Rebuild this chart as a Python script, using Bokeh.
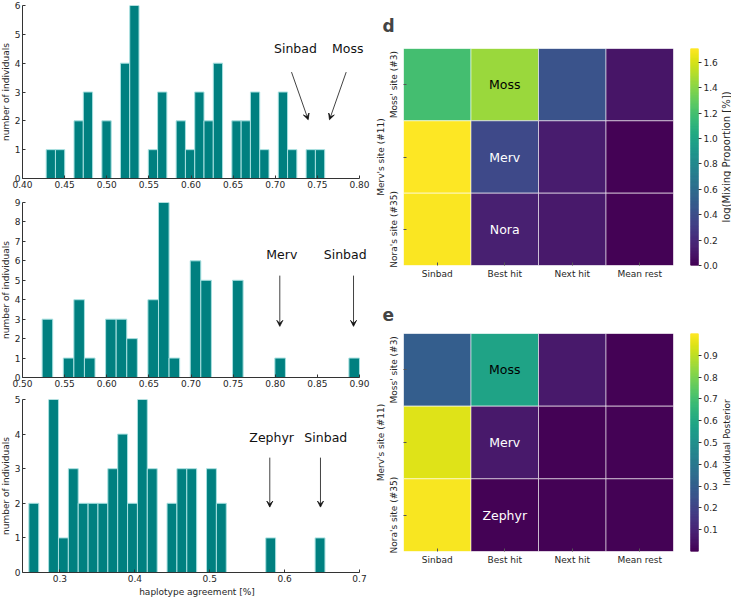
import numpy as np
from bokeh.plotting import figure
from bokeh.layouts import row, column
from bokeh.models import (Range1d, FactorRange, FixedTicker, PrintfTickFormatter, Label, Arrow,
                          VeeHead, LinearColorMapper, ColumnDataSource)
from bokeh.core.properties import value
from bokeh.core.validation import silence
from bokeh.core.validation.warnings import MISSING_RENDERERS
from bokeh.palettes import Viridis256
from bokeh.transform import transform
from bokeh.embed import file_html
from bokeh.resources import INLINE

silence(MISSING_RENDERERS, True)

FONT = "DejaVu Sans"
TXT = "#262626"

# ---------------- histogram data ----------------
h1_start = 0.4281
h1_bin = 0.01102
h1_counts = [1, 1, 0, 2, 3, 0, 2, 0, 4, 6, 0, 1, 3, 0, 2, 1, 3, 2, 4, 0, 2, 2, 3, 1, 0, 3, 1, 0, 1, 1]
h1_xlim = (0.40, 0.80)
h1_xticks = [0.40, 0.45, 0.50, 0.55, 0.60, 0.65, 0.70, 0.75, 0.80]
h1_yticks = [0, 1, 2, 3, 4, 5, 6]
h1_names = ["Sinbad", "Moss"]
h1_text_x = [0.724, 0.786]
h1_text_y = [4.50, 4.50]
h1_arrow_x0 = [0.7193, 0.7842]
h1_arrow_y0 = [3.69, 3.69]
h1_arrow_x1 = [0.7391, 0.7644]
h1_arrow_y1 = [2.04, 2.04]

h2_start = 0.5233
h2_bin = 0.012556
h2_counts = [3, 0, 1, 4, 1, 0, 3, 3, 2, 0, 4, 9, 1, 0, 6, 5, 0, 0, 5, 0, 0, 0, 1, 0, 0, 0, 0, 0, 0, 1]
h2_xlim = (0.50, 0.90)
h2_xticks = [0.50, 0.55, 0.60, 0.65, 0.70, 0.75, 0.80, 0.85, 0.90]
h2_yticks = [0, 1, 2, 3, 4, 5, 6, 7, 8, 9]
h2_names = ["Merv", "Sinbad"]
h2_text_x = [0.8078, 0.883]
h2_text_y = [6.31, 6.31]
h2_arrow_x0 = [0.8054, 0.8929]
h2_arrow_y0 = [5.24, 5.24]
h2_arrow_x1 = [0.8054, 0.8929]
h2_arrow_y1 = [2.63, 2.63]

h3_start = 0.2585
h3_bin = 0.01318
h3_counts = [2, 0, 5, 1, 3, 2, 2, 2, 3, 4, 2, 5, 3, 0, 2, 3, 3, 0, 3, 2, 0, 0, 0, 0, 1, 0, 0, 0, 0, 1]
h3_xlim = (0.25, 0.70)
h3_xticks = [0.3, 0.4, 0.5, 0.6, 0.7]
h3_yticks = [0, 1, 2, 3, 4, 5]
h3_names = ["Zephyr", "Sinbad"]
h3_text_x = [0.5827, 0.655]
h3_text_y = [3.90, 3.90]
h3_arrow_x0 = [0.5802, 0.6479]
h3_arrow_y0 = [3.32, 3.32]
h3_arrow_x1 = [0.5802, 0.6479]
h3_arrow_y1 = [1.89, 1.89]

# ---------------- heatmap data ----------------
hm_cols = ["Sinbad", "Best hit", "Next hit", "Mean rest"]
hm_rows = ["Moss' site (#3)", "Merv's site (#11)", "Nora's site (#35)"]
mix_vals = [[1.20, 1.45, 0.44, 0.10],
            [1.71, 0.38, 0.13, 0.01],
            [1.70, 0.15, 0.12, 0.01]]
post_vals = [[0.30, 0.58, 0.07, 0.005],
             [0.95, 0.07, 0.005, 0.005],
             [0.99, 0.005, 0.005, 0.005]]
mix_labels = ["Moss", "Merv", "Nora"]
post_labels = ["Moss", "Merv", "Zephyr"]
label_colors = ["black", "white", "white"]
mix_range = (0.0, 1.71)
mix_ticks = [0.0, 0.2, 0.4, 0.6, 0.8, 1.0, 1.2, 1.4, 1.6]
post_range = (0.0, 1.0)
post_ticks = [0.1, 0.2, 0.3, 0.4, 0.5, 0.6, 0.7, 0.8, 0.9]

# ---------------- layout sizes (px) ----------------
STRIP_W = 10                 # strip holding the rotated y-axis title
HIST_W = 372 - STRIP_W
HB_L, HB_R = 12, 1           # histogram borders (frame starts at x = 22)
AXIS_END = 359 - STRIP_W     # pixel (inside the histogram figure) of the upper x-limit
AXIS_PX = AXIS_END - HB_L    # pixels spanned by the x-limits


def style_axis(ax, fs="9px"):
    ax.major_label_text_font = FONT
    ax.major_label_text_font_size = fs
    ax.major_label_text_color = TXT
    ax.axis_label_text_font = FONT
    ax.axis_label_text_font_size = fs
    ax.axis_label_text_font_style = "normal"
    ax.axis_label_text_color = TXT
    ax.minor_tick_line_color = None


def title_strip(w, h, top, bottom, label, fs="9px"):
    # empty narrow panel whose left axis only carries a rotated title
    p = figure(width=w, height=h, output_backend="svg", toolbar_location=None,
               x_range=Range1d(0, 1), y_range=Range1d(0, 1), x_axis_location=None,
               min_border_left=w - 1, min_border_right=0, min_border_top=top,
               min_border_bottom=bottom)
    p.grid.visible = False
    p.outline_line_color = None
    ax = p.yaxis[0]
    style_axis(ax, fs)
    ax.ticker = FixedTicker(ticks=[])
    ax.axis_line_color = None
    ax.major_tick_line_color = None
    ax.major_label_standoff = 0
    ax.axis_label_standoff = 0
    ax.axis_label = label
    return p


def hist_fig(h, top, bottom, counts, start, bw, xlim, ymax, xticks, xfmt, yticks,
             names, tx, ty, ax0, ay0, ax1, ay1, xlabel=None):
    frame_w = HIST_W - HB_L - HB_R
    xmax = xlim[0] + (xlim[1] - xlim[0]) * frame_w / AXIS_PX
    p = figure(width=HIST_W, height=h, output_backend="svg", toolbar_location=None,
               x_range=Range1d(xlim[0], xmax), y_range=Range1d(0, ymax),
               min_border_left=HB_L, min_border_right=HB_R,
               min_border_top=top, min_border_bottom=bottom)
    c = np.array(counts)
    edges = start + bw * np.arange(len(c) + 1)
    m = c > 0
    src = ColumnDataSource(dict(left=edges[:-1][m], right=edges[1:][m], top=c[m]))
    p.quad(left="left", right="right", bottom=0, top="top", source=src,
           fill_color="#008080", line_color="#a8e0e0", line_width=1)
    p.grid.visible = False
    p.outline_line_color = None
    for ax in (p.xaxis[0], p.yaxis[0]):
        style_axis(ax)
        ax.axis_line_color = "#333333"
        ax.major_tick_line_color = "#333333"
        ax.major_tick_in = 3
        ax.major_tick_out = 0
        ax.major_label_standoff = 2
        ax.axis_label_standoff = 2
    p.xaxis[0].bounds = xlim
    p.xaxis[0].ticker = FixedTicker(ticks=xticks)
    p.xaxis[0].formatter = PrintfTickFormatter(format=xfmt)
    p.yaxis[0].ticker = FixedTicker(ticks=yticks)
    if xlabel:
        p.xaxis[0].axis_label = xlabel
    for i in range(len(names)):
        p.add_layout(Label(x=tx[i], y=ty[i], text=names[i], text_align="center",
                           text_baseline="middle", text_font=FONT, text_font_size="12.5px",
                           text_color="#111111"))
        p.add_layout(Arrow(x_start=ax0[i], y_start=ay0[i], x_end=ax1[i], y_end=ay1[i],
                           line_color="#111111", line_width=0.8,
                           end=VeeHead(size=6, fill_color="#111111", line_color="#111111",
                                       line_width=0.8)))
    return p


YLABEL = "number of individuals"
f1 = hist_fig(195, 5, 17, h1_counts, h1_start, h1_bin, h1_xlim, 6,
              h1_xticks, "%.2f", h1_yticks, h1_names, h1_text_x, h1_text_y,
              h1_arrow_x0, h1_arrow_y0, h1_arrow_x1, h1_arrow_y1)
s1 = title_strip(STRIP_W, 195, 5, 17, YLABEL)
f2 = hist_fig(195, 7, 13, h2_counts, h2_start, h2_bin, h2_xlim, 9,
              h2_xticks, "%.2f", h2_yticks, h2_names, h2_text_x, h2_text_y,
              h2_arrow_x0, h2_arrow_y0, h2_arrow_x1, h2_arrow_y1)
s2 = title_strip(STRIP_W, 195, 7, 13, YLABEL)
f3 = hist_fig(209, 9, 26, h3_counts, h3_start, h3_bin, h3_xlim, 5,
              h3_xticks, "%.1f", h3_yticks, h3_names, h3_text_x, h3_text_y,
              h3_arrow_x0, h3_arrow_y0, h3_arrow_x1, h3_arrow_y1,
              xlabel="haplotype agreement [%]")
s3 = title_strip(STRIP_W, 209, 9, 26, YLABEL)


def heat_fig(h, top, bottom, vals, labels, vrange, letter, title_standoff):
    mapper = LinearColorMapper(palette=Viridis256, low=vrange[0], high=vrange[1])
    nrow = len(hm_rows)
    row_pos = [nrow - 0.5 - r for r in range(nrow)]
    xs, ys, vs = [], [], []
    for r in range(nrow):
        for ci, cname in enumerate(hm_cols):
            xs.append(cname)
            ys.append(row_pos[r])
            vs.append(vals[r][ci])
    src = ColumnDataSource(dict(x=xs, y=ys, v=vs))
    p = figure(width=311, height=h, output_backend="svg", toolbar_location=None,
               x_range=FactorRange(*hm_cols), y_range=Range1d(0, nrow),
               min_border_left=31, min_border_right=10, min_border_top=top,
               min_border_bottom=bottom, title=letter)
    p.rect(x="x", y="y", width=1, height=1, source=src,
           fill_color=transform("v", mapper), line_color="white", line_alpha=0.55, line_width=1)
    tsrc = ColumnDataSource(dict(x=["Best hit"] * nrow, y=row_pos, t=labels, c=label_colors))
    p.text(x="x", y="y", text="t", text_color="c", source=tsrc, text_align="center",
           text_baseline="middle", text_font_size="12.5px", text_font=value(FONT))
    p.grid.visible = False
    p.outline_line_color = None
    for ax in (p.xaxis[0], p.yaxis[0]):
        style_axis(ax)
        ax.axis_line_color = None
        ax.major_tick_line_color = "#555555"
        ax.major_tick_in = 3
        ax.major_tick_out = 0
        ax.major_label_standoff = 3
    yax = p.yaxis[0]
    yax.ticker = FixedTicker(ticks=row_pos)
    yax.major_label_overrides = {row_pos[0]: hm_rows[0], row_pos[1]: "", row_pos[2]: hm_rows[2]}
    yax.major_label_orientation = "parallel"
    yax.major_label_standoff = 4
    yax.axis_label = hm_rows[1]
    yax.axis_label_standoff = 1
    p.title.text_font = FONT
    p.title.text_font_size = "17px"
    p.title.text_font_style = "bold"
    p.title.align = "left"
    p.title.offset = -21
    p.title.standoff = title_standoff
    return p


def cbar_fig(h, top, bottom, vrange, ticks):
    p = figure(width=37, height=h, output_backend="svg", toolbar_location=None,
               x_range=Range1d(0, 1), y_range=Range1d(*vrange),
               x_axis_location=None, y_axis_location="right",
               min_border_left=7, min_border_right=19, min_border_top=top,
               min_border_bottom=bottom)
    n = len(Viridis256)
    lo, hi = vrange
    b = lo + (hi - lo) * np.arange(n) / n
    t = lo + (hi - lo) * (np.arange(n) + 1) / n
    src = ColumnDataSource(dict(b=b, t=t, c=list(Viridis256)))
    p.quad(left=0, right=1, bottom="b", top="t", fill_color="c", line_color="c", source=src)
    p.grid.visible = False
    p.outline_line_color = None
    ax = p.yaxis[0]
    style_axis(ax)
    ax.axis_line_color = None
    ax.major_tick_line_color = "#333333"
    ax.major_tick_in = 0
    ax.major_tick_out = 3
    ax.major_label_standoff = 2
    ax.ticker = FixedTicker(ticks=ticks)
    ax.formatter = PrintfTickFormatter(format="%.1f")
    return p


hd = heat_fig(290, 48, 25, mix_vals, mix_labels, mix_range, "d", 26)
cd = cbar_fig(290, 48, 25, mix_range, mix_ticks)
ld = title_strip(11, 290, 48, 25, "log(Mixing Proportion [%])", fs="10px")
he = heat_fig(309, 43, 48, post_vals, post_labels, post_range, "e", 25)
ce = cbar_fig(309, 43, 48, post_range, post_ticks)
le = title_strip(11, 309, 43, 48, "Individual Posterior")

left = column(row(s1, f1), row(s2, f2), row(s3, f3))
right = column(row(hd, cd, ld), row(he, ce, le))
layout = row(left, right)

open("out.html", "w").write(file_html(layout, INLINE))
